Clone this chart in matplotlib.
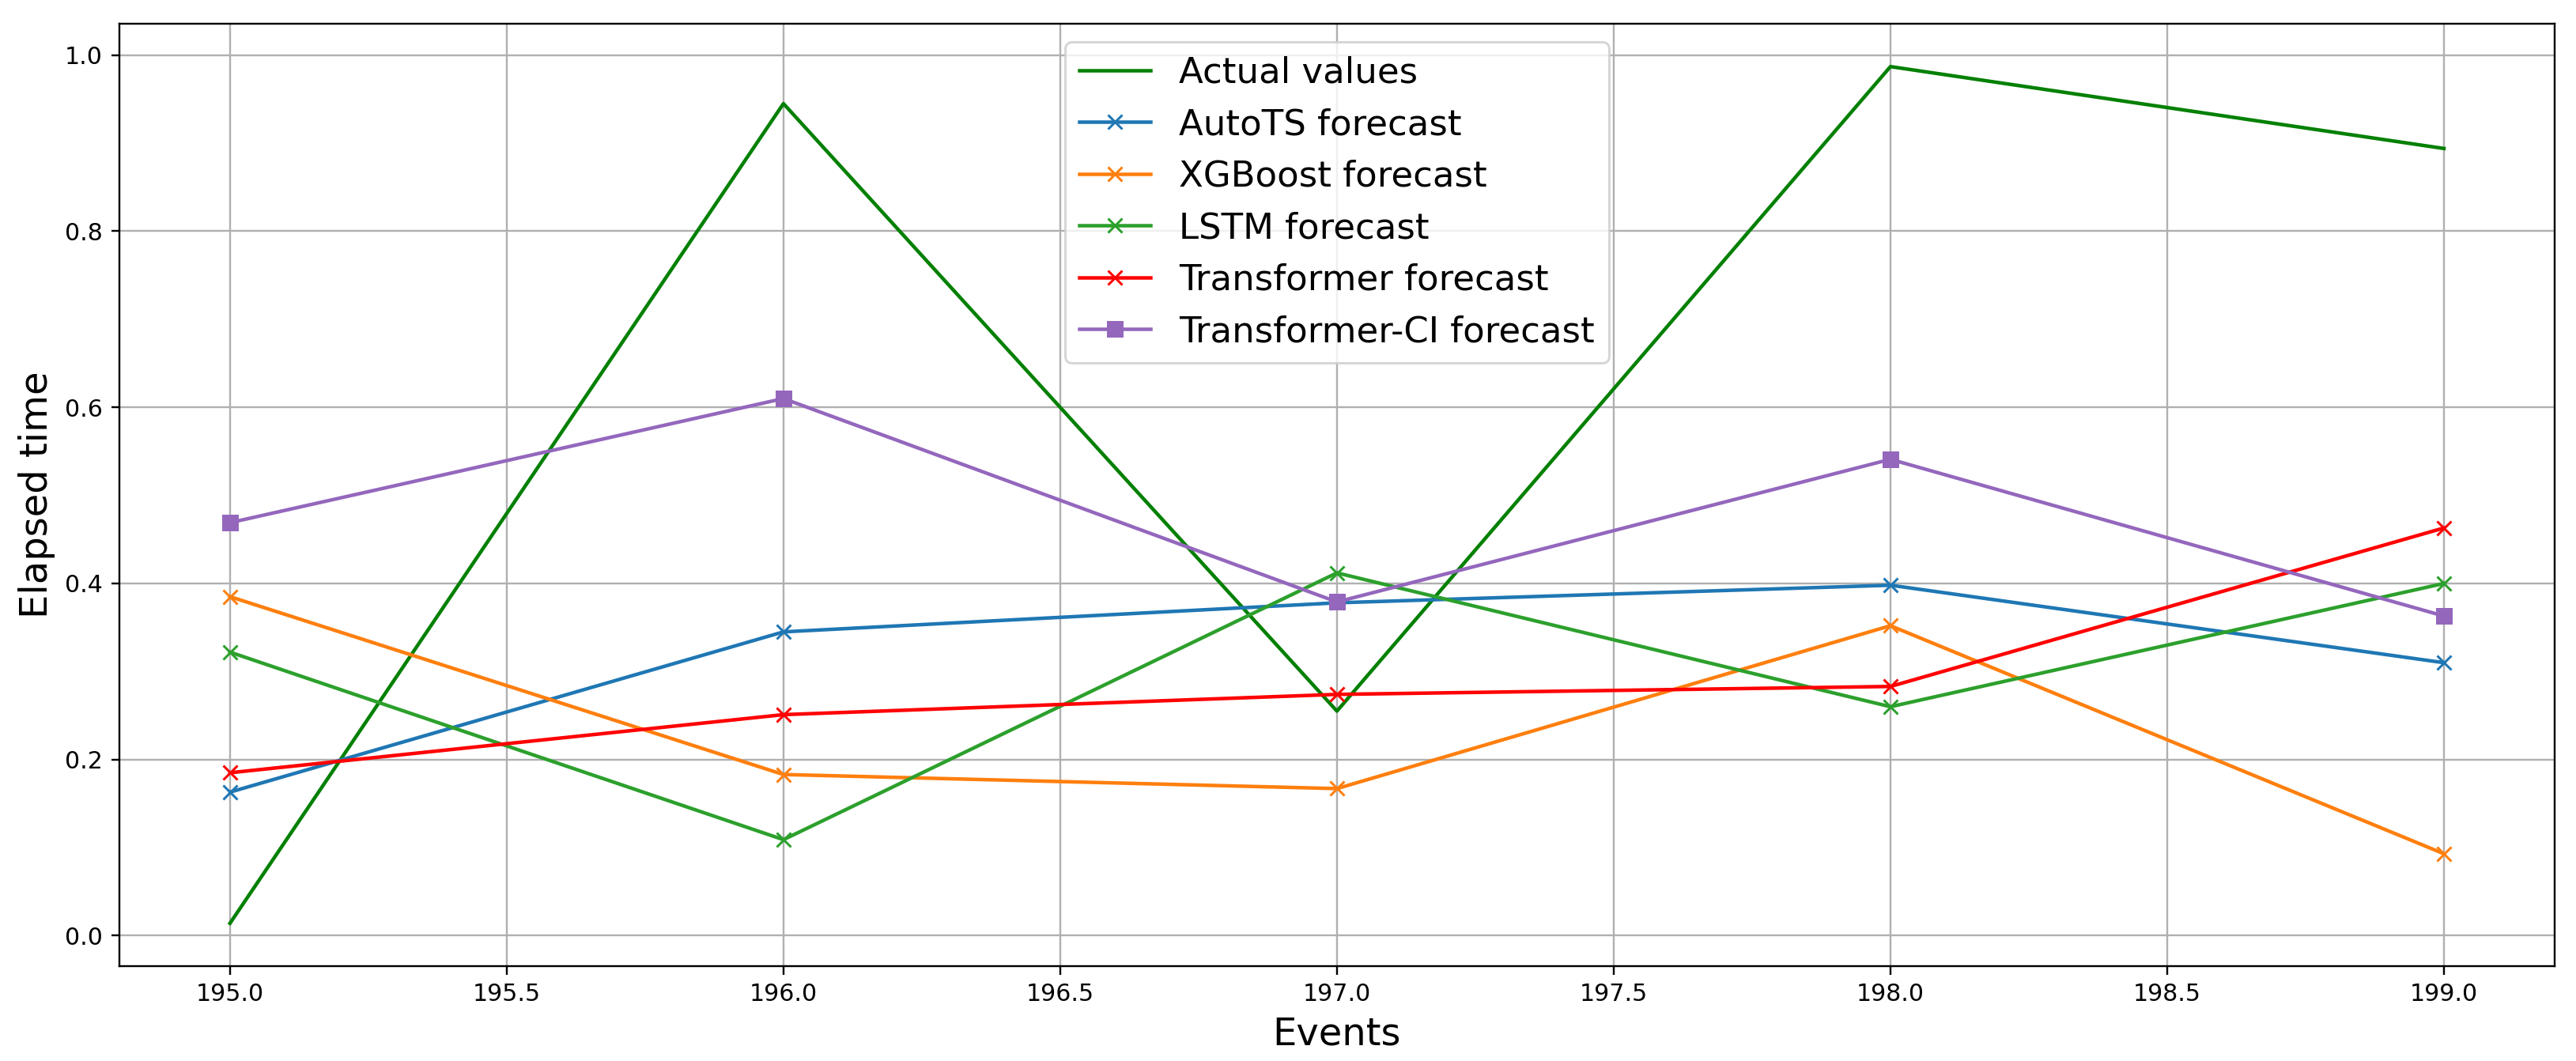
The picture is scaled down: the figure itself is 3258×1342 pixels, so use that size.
import numpy as np
import matplotlib
matplotlib.use("Agg")
import matplotlib.pyplot as plt

# event index on x axis
events = [195, 196, 197, 198, 199]

actual = [0.014, 0.945, 0.255, 0.987, 0.894]
autots = [0.163, 0.345, 0.378, 0.398, 0.310]
xgboost = [0.385, 0.183, 0.167, 0.352, 0.093]
lstm = [0.322, 0.109, 0.412, 0.260, 0.400]
transformer = [0.185, 0.251, 0.274, 0.283, 0.463]
transformer_ci = [0.469, 0.610, 0.379, 0.541, 0.363]

fig = plt.figure(figsize=(3258/216, 1342/216), dpi=216)
ax = fig.add_axes([0.0463, 0.0894, 0.9454, 0.8882])

ax.plot(events, actual, color='green', label='Actual values')
ax.plot(events, autots, color='tab:blue', marker='x', label='AutoTS forecast')
ax.plot(events, xgboost, color='tab:orange', marker='x', label='XGBoost forecast')
ax.plot(events, lstm, color='tab:green', marker='x', label='LSTM forecast')
ax.plot(events, transformer, color='red', marker='x', label='Transformer forecast')
ax.plot(events, transformer_ci, color='tab:purple', marker='s', label='Transformer-CI forecast')

ax.set_xlabel('Events', fontsize=16)
ax.set_ylabel('Elapsed time', fontsize=16)
ax.tick_params(labelsize=10)
ax.grid(True)
ax.legend(loc='upper center', fontsize=15)

fig.savefig('out.png', dpi=216)
